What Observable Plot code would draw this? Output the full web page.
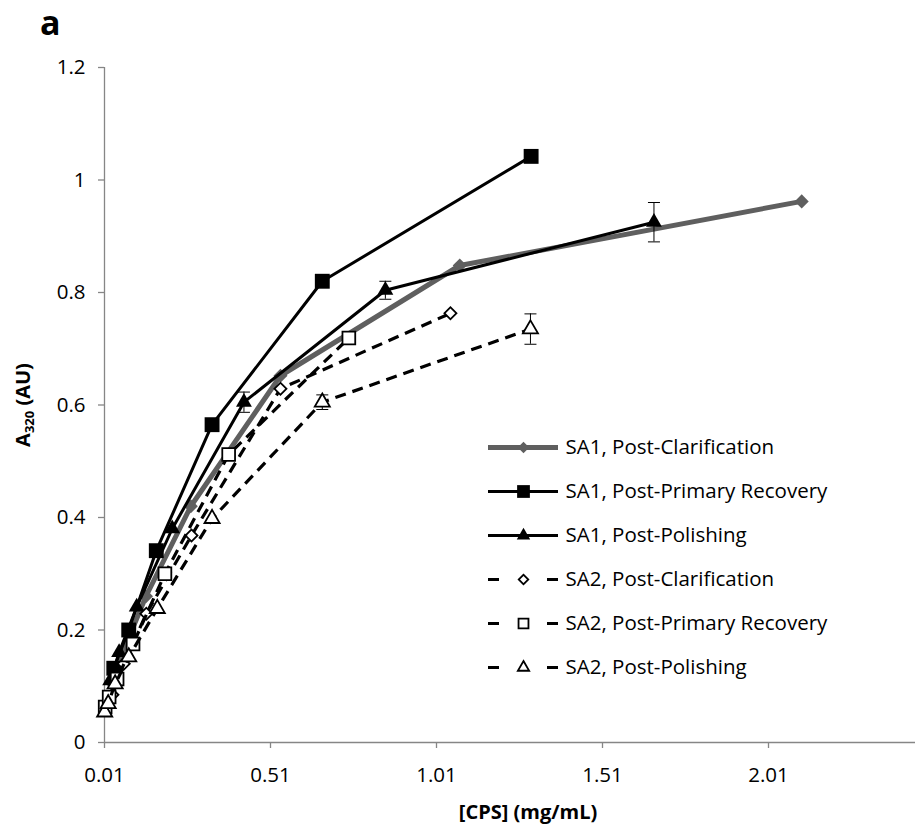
<!DOCTYPE html>
<html>
<head>
<meta charset="utf-8">
<script src="https://cdn.jsdelivr.net/npm/d3@7"></script>
<script src="https://cdn.jsdelivr.net/npm/@observablehq/plot@0.6"></script>
<style>
html, body { margin: 0; padding: 0; background: #fff; overflow: hidden; }
#wrap { position: relative; width: 915px; height: 832px; overflow: hidden; font-family: "Open Sans", Lato, sans-serif; color: #000; }
#wrap svg { position: absolute; max-width: none !important; }
.lbl { position: absolute; font-weight: bold; font-size: 20px; white-space: nowrap; text-align: center; }
#title { position: absolute; left: 40px; top: 2px; font-weight: bold; font-size: 34px; line-height: 40px; }
#ylab { left: -77px; top: 393px; width: 200px; transform: rotate(-90deg); transform-origin: 100px 12px; line-height: 24px; }
#ylab sub { font-size: 13px; vertical-align: -4px; }
#xlab { left: 428px; top: 800px; width: 200px; line-height: 24px; }
</style>
</head>
<body>
<div id="wrap">
  <div id="title">a</div>
  <div id="ylab" class="lbl">A<sub>320</sub> (AU)</div>
  <div id="xlab" class="lbl">[CPS] (mg/mL)</div>
</div>
<script>
// ---- data ----
const seriesNames = [
  "SA1, Post-Clarification",
  "SA1, Post-Primary Recovery",
  "SA1, Post-Polishing",
  "SA2, Post-Clarification",
  "SA2, Post-Primary Recovery",
  "SA2, Post-Polishing"
];
const sa1ClarX = [0.034, 0.068, 0.135, 0.27, 0.54, 1.08, 2.11];
const sa1ClarY = [0.105, 0.165, 0.26, 0.42, 0.652, 0.848, 0.962];
const sa1PrimX = [0.038, 0.083, 0.166, 0.334, 0.666, 1.295];
const sa1PrimY = [0.132, 0.200, 0.341, 0.565, 0.820, 1.042];
const sa1PolX = [0.027, 0.054, 0.107, 0.214, 0.43, 0.856, 1.665];
const sa1PolY = [0.11, 0.16, 0.241, 0.380, 0.605, 0.804, 0.925];
const sa1PolErr = [0, 0, 0, 0, 0.018, 0.016, 0.035];
const sa2ClarX = [0.034, 0.068, 0.136, 0.272, 0.54, 1.052];
const sa2ClarY = [0.085, 0.14, 0.229, 0.368, 0.629, 0.763];
const sa2PrimX = [0.012, 0.024, 0.048, 0.096, 0.192, 0.384, 0.746];
const sa2PrimY = [0.063, 0.081, 0.113, 0.175, 0.300, 0.512, 0.719];
const sa2PolX = [0.0105, 0.021, 0.042, 0.083, 0.169, 0.334, 0.666, 1.293];
const sa2PolY = [0.054, 0.069, 0.104, 0.152, 0.238, 0.398, 0.605, 0.735];
const sa2PolErr = [0, 0, 0, 0, 0, 0, 0.013, 0.027];

const xTicks = [0.01, 0.51, 1.01, 1.51, 2.01];
const yTicks = [0, 0.2, 0.4, 0.6, 0.8, 1, 1.2];

// ---- styles ----
const axisGray = "#868686";
const clarGray = "#5f5f5f";
const fontSize = 20.5;
const styles = [
  {stroke: clarGray, width: 5, dash: null, symbol: "square", rotate: 45, r: 5.6, fill: clarGray, mstroke: "none", msw: 0, lr: 4.6},
  {stroke: "#000", width: 3, dash: null, symbol: "square", rotate: 0, r: 8.4, fill: "#000", mstroke: "none", msw: 0, lr: 7.2},
  {stroke: "#000", width: 3, dash: null, symbol: "triangle", rotate: 0, r: 5.9, fill: "#000", mstroke: "none", msw: 0, lr: 5.0},
  {stroke: "#000", width: 3.2, dash: "11,7", symbol: "square", rotate: 45, r: 4.8, fill: "#fff", mstroke: "#000", msw: 1.8, lr: 3.8},
  {stroke: "#000", width: 3.2, dash: "11,7", symbol: "square", rotate: 0, r: 7.2, fill: "#fff", mstroke: "#000", msw: 1.8, lr: 5.6},
  {stroke: "#000", width: 3.2, dash: "11,7", symbol: "triangle", rotate: 0, r: 5.6, fill: "#fff", mstroke: "#000", msw: 1.8, lr: 4.2}
];

const raw = [
  [sa1ClarX, sa1ClarY, null],
  [sa1PrimX, sa1PrimY, null],
  [sa1PolX, sa1PolY, sa1PolErr],
  [sa2ClarX, sa2ClarY, null],
  [sa2PrimX, sa2PrimY, null],
  [sa2PolX, sa2PolY, sa2PolErr]
];
const tables = raw.map(([xs, ys, es], i) =>
  xs.map((x, j) => ({series: seriesNames[i], x, y: ys[j], err: es ? es[j] : 0})));

const capSymbol = {
  draw(context) { context.moveTo(-6, 0); context.lineTo(6, 0); }
};

const marks = [
  Plot.ruleY([0], {stroke: axisGray, strokeWidth: 1.3}),
  Plot.ruleX([0.01], {stroke: axisGray, strokeWidth: 1.3}),
  Plot.axisX({ticks: xTicks, tickSize: 6, tickPadding: 19, stroke: axisGray, strokeWidth: 1.3,
    tickFormat: d => d.toFixed(2), label: null, fontSize}),
  Plot.axisY({ticks: yTicks, tickSize: 6, tickPadding: 13, stroke: axisGray, strokeWidth: 1.3,
    tickFormat: d => String(d), label: null, fontSize})
];

tables.forEach((t, i) => {
  const s = styles[i];
  marks.push(Plot.line(t, {x: "x", y: "y", stroke: s.stroke, strokeWidth: s.width,
    strokeDasharray: s.dash, strokeLinejoin: "round", strokeLinecap: s.dash ? "butt" : "round"}));
  const e = t.filter(d => d.err > 0);
  if (e.length) {
    marks.push(Plot.ruleX(e, {x: "x", y1: d => d.y - d.err, y2: d => d.y + d.err, stroke: "#000", strokeWidth: 1}));
    marks.push(Plot.dot(e, {x: "x", y: d => d.y - d.err, symbol: capSymbol, stroke: "#000", strokeWidth: 1, fill: "none"}));
    marks.push(Plot.dot(e, {x: "x", y: d => d.y + d.err, symbol: capSymbol, stroke: "#000", strokeWidth: 1, fill: "none"}));
  }
  marks.push(Plot.dot(t, {x: "x", y: "y", symbol: s.symbol, r: s.r, rotate: s.rotate,
    fill: s.fill, stroke: s.mstroke, strokeWidth: s.msw}));
});

const chart = Plot.plot({
  width: 940, height: 832,
  marginLeft: 104, marginRight: 6, marginTop: 67, marginBottom: 90,
  style: {fontFamily: "'Open Sans', Lato, sans-serif", fontSize: fontSize + "px", color: "#000", background: "transparent", overflow: "visible", maxWidth: "none"},
  x: {domain: [0.01, 2.51]},
  y: {domain: [0, 1.2]},
  marks
});
chart.style.left = "0px"; chart.style.top = "0px";
document.getElementById("wrap").appendChild(chart);

// ---- legend (separate small plot overlaid inside the plot area) ----
const legendRows = seriesNames.map((name, i) => ({name, i}));
const legendDash = "11,48";
const legendMarks = [];
legendRows.forEach(row => {
  const s = styles[row.i];
  legendMarks.push(Plot.ruleY([row], {y: "name", stroke: s.stroke, strokeWidth: s.width,
    strokeDasharray: s.dash ? legendDash : null}));
  legendMarks.push(Plot.dot([row], {y: "name", frameAnchor: "middle", symbol: s.symbol, r: s.lr,
    rotate: s.rotate, fill: s.fill, stroke: s.mstroke, strokeWidth: s.msw}));
});
legendMarks.push(Plot.text(legendRows, {y: "name", text: "name", frameAnchor: "right", dx: 7, textAnchor: "start",
  fill: "#000", fontSize}));

const legend = Plot.plot({
  width: 70 + 360, height: 268,
  marginLeft: 0, marginRight: 360, marginTop: 0, marginBottom: 0,
  style: {fontFamily: "'Open Sans', Lato, sans-serif", fontSize: fontSize + "px", color: "#000", background: "transparent", overflow: "visible", maxWidth: "none"},
  y: {type: "point", domain: seriesNames, padding: 0.5, axis: null},
  marks: legendMarks
});
legend.style.left = "488px"; legend.style.top = "423px";
document.getElementById("wrap").appendChild(legend);
</script>
</body>
</html>
